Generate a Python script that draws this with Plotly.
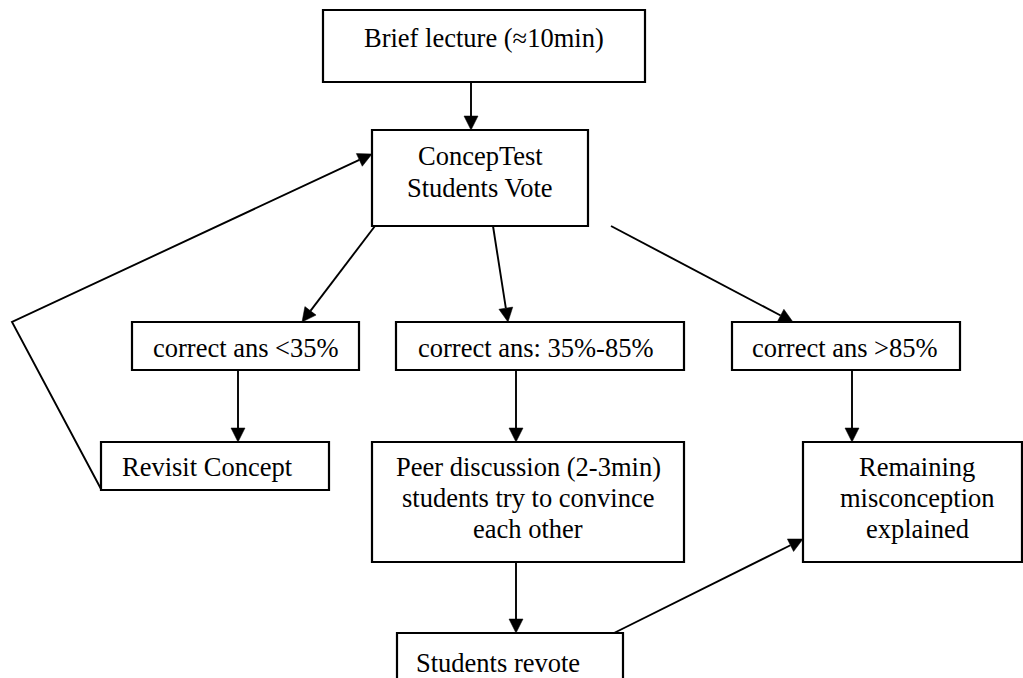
import math
import plotly.graph_objects as go

# ---- node data ----
node_ids = ["lecture", "concept", "low", "mid", "high", "revisit", "peer", "remain", "revote"]
node_lines = [
    ["Brief lecture (≈10min)"],
    ["ConcepTest", "Students Vote"],
    ["correct ans <35%"],
    ["correct ans: 35%-85%"],
    ["correct ans >85%"],
    ["Revisit Concept"],
    ["Peer discussion (2-3min)", "students try to convince", "each other"],
    ["Remaining", "misconception", "explained"],
    ["Students revote"],
]

# ---- layout geometry (pixel space, y downwards) ----
box_x0 = [323, 372, 132, 396, 732, 101, 372, 803, 397]
box_y0 = [10, 130, 322, 322, 322, 442, 442, 442, 633]
box_x1 = [645, 588, 359, 684, 960, 329, 684, 1022, 623]
box_y1 = [82, 226, 370, 370, 370, 490, 562, 562, 720]
text_x = [484, 480, 245.5, 535, 845, 207.5, 528, 917, 498]
text_y = [[38], [156, 188], [348], [348], [348], [467], [467, 498, 529], [467, 498, 529], [663]]

# edges: polylines, arrowhead at the last point
edge_x = [
    [471, 471],
    [375, 302],
    [493, 508],
    [611, 793],
    [238, 238],
    [516, 516],
    [852, 852],
    [516, 516],
    [612, 803],
    [101, 12, 372],
]
edge_y = [
    [82, 130],
    [226, 322],
    [226, 322],
    [226, 322],
    [370, 442],
    [370, 442],
    [370, 442],
    [562, 633],
    [634, 539],
    [489, 322, 154],
]

W, H = 1023, 678
FONT = dict(family="Liberation Serif, Times New Roman, serif", size=26.5, color="black")
head_len, head_half = 14, 7

fig = go.Figure()
shapes = []
annotations = []

for i in range(len(node_ids)):
    shapes.append(dict(type="rect", xref="x", yref="y",
                       x0=box_x0[i], y0=box_y0[i], x1=box_x1[i], y1=box_y1[i],
                       line=dict(color="black", width=2.2), fillcolor="white", layer="above"))
    for line, ty in zip(node_lines[i], text_y[i]):
        annotations.append(dict(x=text_x[i], y=ty, xref="x", yref="y", text=line,
                                showarrow=False, xanchor="center", yanchor="middle",
                                font=FONT))

for xs, ys in zip(edge_x, edge_y):
    dx, dy = xs[-1] - xs[-2], ys[-1] - ys[-2]
    L = math.hypot(dx, dy)
    ux, uy = dx / L, dy / L
    bx, by = xs[-1] - ux * head_len, ys[-1] - uy * head_len
    px = list(xs[:-1]) + [bx]
    py = list(ys[:-1]) + [by]
    fig.add_trace(go.Scatter(x=px, y=py, mode="lines",
                             line=dict(color="black", width=1.9),
                             hoverinfo="skip", showlegend=False))
    nx, ny = -uy, ux
    p1 = (bx + nx * head_half, by + ny * head_half)
    p2 = (bx - nx * head_half, by - ny * head_half)
    path = f"M {xs[-1]},{ys[-1]} L {p1[0]},{p1[1]} L {p2[0]},{p2[1]} Z"
    shapes.append(dict(type="path", xref="x", yref="y", path=path,
                       fillcolor="black", line=dict(color="black", width=0.5), layer="above"))

fig.update_layout(
    width=W, height=H,
    margin=dict(l=0, r=0, t=0, b=0),
    paper_bgcolor="white", plot_bgcolor="white",
    shapes=shapes, annotations=annotations,
    xaxis=dict(range=[0, W], visible=False, fixedrange=True),
    yaxis=dict(range=[H, 0], visible=False, fixedrange=True),
    showlegend=False,
)

fig.write_html(
    "out.html",
    config={"displayModeBar": False},
    post_script="document.body.style.margin='0';document.body.style.overflow='hidden';",
)
